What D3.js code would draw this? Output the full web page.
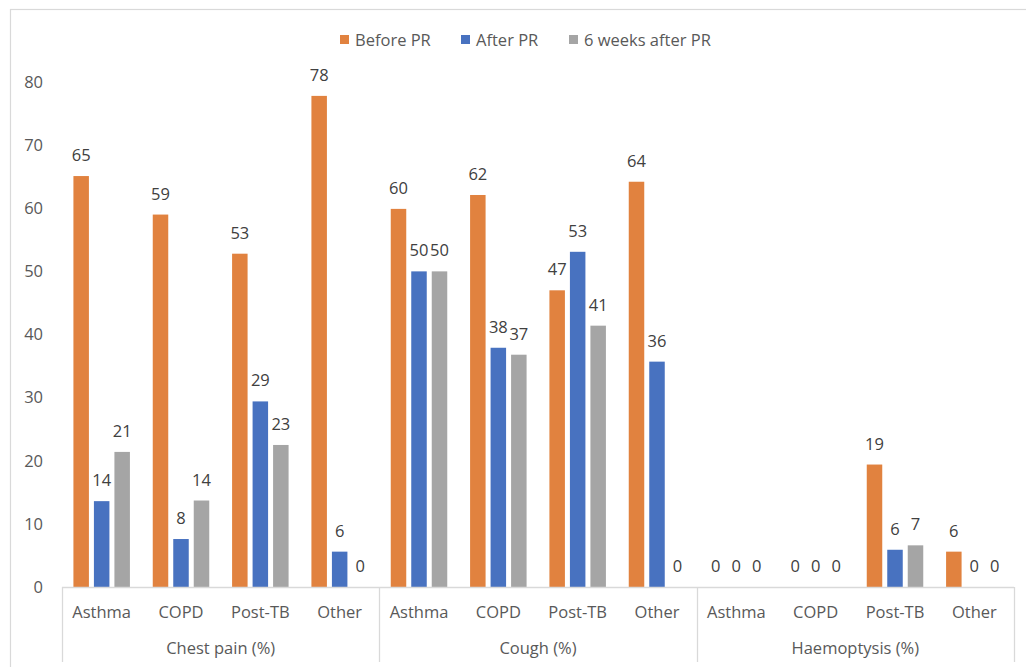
<!DOCTYPE html>
<html>
<head>
<meta charset="utf-8">
<script src="https://cdn.jsdelivr.net/npm/d3@7"></script>
<style>
  html, body { margin: 0; padding: 0; background: #ffffff; }
  svg { display: block; }
  text { font-family: "Open Sans", "Noto Sans", sans-serif; }
</style>
</head>
<body>
<svg id="chart" width="1026" height="667"></svg>
<script>
// ---- data ----
const groups = ["Chest pain (%)", "Cough (%)", "Haemoptysis (%)"];
const categories = ["Asthma", "COPD", "Post-TB", "Other"];
const seriesNames = ["Before PR", "After PR", "6 weeks after PR"];
const beforePR = [65.1, 59.0, 52.8, 77.8, 59.9, 62.1, 47.0, 64.2, 0, 0, 19.4, 5.6];
const afterPR  = [13.6, 7.6, 29.4, 5.6, 50.0, 37.9, 53.1, 35.7, 0, 0, 5.9, 0];
const sixWeeks = [21.4, 13.7, 22.5, 0, 50.0, 36.8, 41.4, 0, 0, 0, 6.6, 0];
const yTicks = [0, 10, 20, 30, 40, 50, 60, 70, 80];
const colors = ["#E1823F", "#4872C0", "#A5A5A5"];

const seriesValues = [beforePR, afterPR, sixWeeks];
const rows = [];
groups.forEach((g, gi) => categories.forEach((c, ci) => {
  const idx = gi * categories.length + ci;
  rows.push({ key: g + "|" + c, group: g, cat: c,
    values: seriesNames.map((s, si) => ({ series: s, si, v: seriesValues[si][idx] })) });
}));

const svg = d3.select("#chart");
const plotLeft = 62, plotRight = 1014, plotBase = 587, plotTop = 82;

// frame
svg.append("rect").attr("x", 10.5).attr("y", 9.5).attr("width", 1100).attr("height", 700)
  .attr("fill", "none").attr("stroke", "#d9d9d9").attr("stroke-width", 1.2);

const y = d3.scaleLinear().domain([0, 80]).range([plotBase, plotTop]);
const x0 = d3.scaleBand().domain(rows.map(r => r.key)).range([plotLeft, plotRight]);
const xs = d3.scaleBand().domain(seriesNames).range([0, x0.bandwidth()])
  .paddingInner(0.244).paddingOuter(0.557);
const xg = d3.scaleBand().domain(groups).range([plotLeft, plotRight]);

// y axis
const yAxis = svg.append("g").attr("transform", `translate(${plotLeft},0)`)
  .call(d3.axisLeft(y).tickValues(yTicks).tickSize(0).tickPadding(19));
yAxis.select(".domain").remove();
yAxis.selectAll("text").attr("fill", "#595959").style("font-size", "16.5px")
  .style("font-family", "'Open Sans', sans-serif");

// bars
const cat = svg.append("g").selectAll("g").data(rows).join("g")
  .attr("transform", d => `translate(${x0(d.key)},0)`);
cat.selectAll("rect").data(d => d.values).join("rect")
  .attr("x", d => xs(d.series)).attr("width", xs.bandwidth())
  .attr("y", d => y(d.v)).attr("height", d => plotBase - y(d.v))
  .attr("fill", d => colors[d.si]);
cat.selectAll("text.lbl").data(d => d.values).join("text").attr("class", "lbl")
  .attr("x", d => xs(d.series) + xs.bandwidth() / 2)
  .attr("y", d => y(d.v) - 15)
  .attr("text-anchor", "middle").attr("fill", "#404040").style("font-size", "16.5px")
  .text(d => Math.round(d.v));

// category axis
svg.append("line").attr("x1", plotLeft).attr("x2", plotRight)
  .attr("y1", plotBase + 0.5).attr("y2", plotBase + 0.5)
  .attr("stroke", "#d9d9d9").attr("stroke-width", 1.3);
const xAxis = svg.append("g").attr("transform", `translate(0,${plotBase})`)
  .call(d3.axisBottom(x0).tickSize(0).tickPadding(19).tickFormat(k => k.split("|")[1]));
xAxis.select(".domain").remove();
xAxis.selectAll("text").attr("fill", "#595959").style("font-size", "16.5px")
  .style("font-family", "'Open Sans', sans-serif");

// group separators
const bounds = groups.map(g => xg(g)).concat([plotRight]);
svg.append("g").selectAll("line").data(bounds).join("line")
  .attr("x1", d => Math.round(d) + 0.5).attr("x2", d => Math.round(d) + 0.5)
  .attr("y1", plotBase).attr("y2", 662)
  .attr("stroke", "#d9d9d9").attr("stroke-width", 1.3);
svg.append("g").selectAll("text").data(groups).join("text")
  .attr("x", d => xg(d) + xg.bandwidth() / 2).attr("y", 654)
  .attr("text-anchor", "middle").attr("fill", "#595959").style("font-size", "16.5px")
  .text(d => d);

// legend
const legendX = [340, 461, 569];
const lg = svg.append("g").selectAll("g").data(seriesNames).join("g")
  .attr("transform", (d, i) => `translate(${legendX[i]},35)`);
lg.append("rect").attr("width", 9).attr("height", 9).attr("fill", (d, i) => colors[i]);
lg.append("text").attr("x", 15).attr("y", 10.5).attr("fill", "#595959")
  .style("font-size", "16.5px").text(d => d);
</script>
</body>
</html>
